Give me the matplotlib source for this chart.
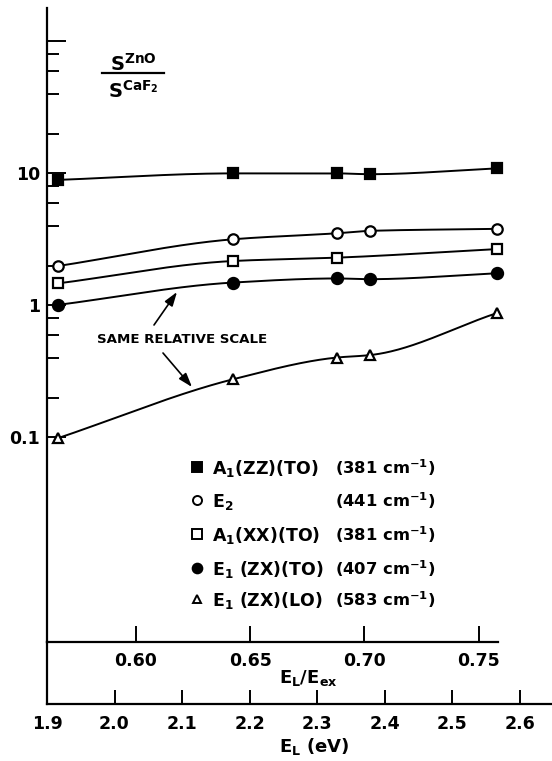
import numpy as np
import matplotlib
matplotlib.use("Agg")
import matplotlib.pyplot as plt
from matplotlib.ticker import FixedLocator, FixedFormatter, NullFormatter
from matplotlib.lines import Line2D

plt.rcParams['font.family'] = ['DejaVu Sans']
plt.rcParams['font.weight'] = 'bold'
plt.rcParams['mathtext.fontset'] = 'dejavusans'
plt.rcParams['mathtext.default'] = 'bf'

# ---------------- data ----------------
E_EX = 3.386  # exciton energy (eV) used for the E_L/E_ex scale

energy_a1zz = [1.917, 2.176, 2.330, 2.378, 2.566]
ratio_a1zz = [8.93, 10.0, 10.0, 9.86, 10.9]

energy_e2 = [1.917, 2.176, 2.330, 2.378, 2.566]
ratio_e2 = [1.99, 3.17, 3.52, 3.67, 3.80]

energy_a1xx = [1.917, 2.176, 2.330, 2.566]
ratio_a1xx = [1.47, 2.17, 2.30, 2.67]

energy_e1to = [1.917, 2.176, 2.330, 2.378, 2.566]
ratio_e1to = [1.01, 1.49, 1.60, 1.58, 1.75]

energy_e1lo = [1.917, 2.176, 2.330, 2.378, 2.566]
ratio_e1lo = [0.099, 0.276, 0.403, 0.42, 0.873]

mode_names = [r'A$_1$(ZZ)(TO)', r'E$_2$', r'A$_1$(XX)(TO)',
              r'E$_1$ (ZX)(TO)', r'E$_1$ (ZX)(LO)']
mode_wavenumbers = [r'(381 cm$^{-1}$)', r'(441 cm$^{-1}$)', r'(381 cm$^{-1}$)',
                    r'(407 cm$^{-1}$)', r'(583 cm$^{-1}$)']

ratio_ticks = [0.1, 1, 10, 100]
ratio_tick_labels = ['0.1', '1', '10', '']
ratio_minor = [0.2, 0.4, 0.6, 0.8, 2, 4, 6, 8, 20, 40, 60, 80]

reduced_ticks = [0.60, 0.65, 0.70, 0.75]
reduced_labels = ['0.60', '0.65', '0.70', '0.75']

ev_ticks = [1.9, 2.0, 2.1, 2.2, 2.3, 2.4, 2.5, 2.6]
ev_labels = ['1.9', '2.0', '2.1', '2.2', '2.3', '2.4', '2.5', '2.6']

# ---------------- figure ----------------
W, H = 552, 761
fig = plt.figure(figsize=(W / 100, H / 100), dpi=100)


def fx(px):
    return px / W


def fy(py):
    return 1 - py / H


PX_PER_EV = 675.0
X0 = 47.0
ax = fig.add_axes([fx(X0), fy(642), fx(498) - fx(X0), fy(8) - fy(642)])
ax.set_xlim(1.9, 1.9 + (498 - X0) / PX_PER_EV)
ax.set_yscale('log')
ax.set_ylim(0.00282, 179)
ax.patch.set_alpha(0)

for s in ['top', 'right']:
    ax.spines[s].set_visible(False)
for s in ['left', 'bottom']:
    ax.spines[s].set_linewidth(1.6)

ax.yaxis.set_major_locator(FixedLocator(ratio_ticks))
ax.yaxis.set_major_formatter(FixedFormatter(ratio_tick_labels))
ax.yaxis.set_minor_locator(FixedLocator(ratio_minor))
ax.yaxis.set_minor_formatter(NullFormatter())
ax.tick_params(axis='y', which='major', direction='in', length=14, width=1.4,
               pad=5, labelsize=12.5)
ax.tick_params(axis='y', which='minor', direction='in', length=8.5, width=1.4)

ax.set_xticks([E_EX * r for r in reduced_ticks])
ax.set_xticklabels(reduced_labels)
ax.xaxis.set_minor_locator(FixedLocator([]))
ax.tick_params(axis='x', which='major', direction='in', length=11.5, width=1.4,
               pad=7, labelsize=12.5)


def smooth(x, y, n=300):
    """Monotone cubic (PCHIP) drawing curve through the points in log space."""
    x = np.asarray(x, float)
    ly = np.log10(np.asarray(y, float))
    h = np.diff(x)
    delta = np.diff(ly) / h
    m = np.zeros_like(ly)
    for k in range(1, len(x) - 1):
        if delta[k - 1] * delta[k] > 0:
            w1 = 2 * h[k] + h[k - 1]
            w2 = h[k] + 2 * h[k - 1]
            m[k] = (w1 + w2) / (w1 / delta[k - 1] + w2 / delta[k])
    m[0] = delta[0]
    m[-1] = delta[-1]
    xs = np.linspace(x[0], x[-1], n)
    idx = np.clip(np.searchsorted(x, xs) - 1, 0, len(x) - 2)
    t = (xs - x[idx]) / h[idx]
    h00 = 2 * t ** 3 - 3 * t ** 2 + 1
    h10 = t ** 3 - 2 * t ** 2 + t
    h01 = -2 * t ** 3 + 3 * t ** 2
    h11 = t ** 3 - t ** 2
    ys = (h00 * ly[idx] + h10 * h[idx] * m[idx] + h01 * ly[idx + 1]
          + h11 * h[idx] * m[idx + 1])
    return xs, 10 ** ys


series = [
    (energy_a1zz, ratio_a1zz, dict(marker='s', mfc='black', ms=7.5)),
    (energy_e2, ratio_e2, dict(marker='o', mfc='white', ms=7.5)),
    (energy_a1xx, ratio_a1xx, dict(marker='s', mfc='white', ms=7.5)),
    (energy_e1to, ratio_e1to, dict(marker='o', mfc='black', ms=8)),
    (energy_e1lo, ratio_e1lo, dict(marker='^', mfc='white', ms=7)),
]
for xs_, ys_, st in series:
    sx, sy = smooth(xs_, ys_)
    ax.plot(sx, sy, color='black', lw=1.4, zorder=2, clip_on=False)
    ax.plot(xs_, ys_, ls='none', mec='black', mew=1.6, zorder=3,
            clip_on=False, **st)

# bottom energy axis
ax2 = fig.add_axes([fx(X0), fy(704), fx(W) - fx(X0), fy(642) - fy(704)])
ax2.set_xlim(1.9, 1.9 + (W - X0) / PX_PER_EV)
ax2.patch.set_alpha(0)
for s in ['top', 'right']:
    ax2.spines[s].set_visible(False)
for s in ['left', 'bottom']:
    ax2.spines[s].set_linewidth(1.6)
ax2.set_yticks([])
ax2.set_xticks(ev_ticks)
ax2.set_xticklabels(ev_labels)
ax2.tick_params(axis='x', direction='in', length=10, width=1.4, pad=8,
                labelsize=12.5)

# axis titles
fig.text(fx(308), fy(683), r'E$_L$/E$_{ex}$', ha='center', va='baseline',
         fontsize=13)
fig.text(fx(314), fy(752), r'E$_L$ (eV)', ha='center', va='baseline',
         fontsize=13)

# ordinate label as fraction
fig.text(fx(133), fy(71), r'S$^{ZnO}$', ha='center', va='baseline', fontsize=14)
fig.text(fx(133), fy(98), r'S$^{CaF_2}$', ha='center', va='baseline', fontsize=14)
fig.add_artist(Line2D([fx(102), fx(164)], [fy(73), fy(73)], color='black',
                      lw=1.6, transform=fig.transFigure))

# annotation with arrows
fig.text(fx(182), fy(340), 'SAME RELATIVE SCALE', ha='center', va='center',
         fontsize=9.6)
arrow_kw = dict(arrowstyle='-|>,head_length=0.6,head_width=0.2', lw=1.2,
                color='black', mutation_scale=14, shrinkA=0, shrinkB=0)
ax.annotate('', xy=(177, H - 292), xytext=(154, H - 325),
            xycoords='figure pixels', textcoords='figure pixels',
            arrowprops=arrow_kw)
ax.annotate('', xy=(192, H - 387), xytext=(163, H - 353),
            xycoords='figure pixels', textcoords='figure pixels',
            arrowprops=arrow_kw)

# legend (drawn manually)
legend_markers = [dict(marker='s', mfc='black', ms=6.5),
                  dict(marker='o', mfc='white', ms=6.5),
                  dict(marker='s', mfc='white', ms=6.5),
                  dict(marker='o', mfc='black', ms=7),
                  dict(marker='^', mfc='white', ms=6)]
row_base = [474, 507, 541, 575, 606]
for i, (nm, wn, mk) in enumerate(zip(mode_names, mode_wavenumbers, legend_markers)):
    yb = row_base[i]
    fig.add_artist(Line2D([fx(197)], [fy(yb - 7)], ls='none', mec='black',
                          mew=1.4, transform=fig.transFigure, **mk))
    fig.text(fx(212), fy(yb), nm, ha='left', va='baseline', fontsize=12.5)
    fig.text(fx(335), fy(yb), wn, ha='left', va='baseline', fontsize=11.8)

fig.savefig('out.png', dpi=100)
